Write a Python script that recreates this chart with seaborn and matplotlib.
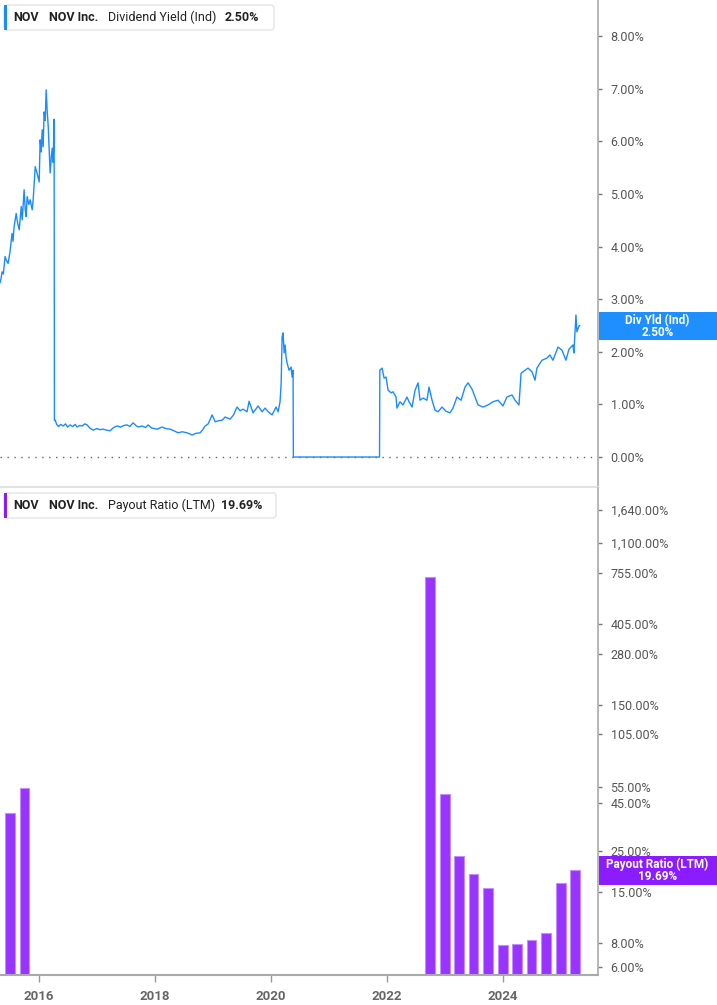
import matplotlib
matplotlib.use("Agg")
import matplotlib.pyplot as plt
import seaborn as sns
import pandas as pd
from matplotlib.patches import Rectangle, FancyBboxPatch
from matplotlib.ticker import FixedLocator, NullLocator, FixedFormatter

# ---------------- data ----------------
yield_dates = [
    "2015-04-29", "2015-05-06", "2015-05-12", "2015-05-20", "2015-05-31", "2015-06-08",
    "2015-06-19", "2015-07-01", "2015-07-14", "2015-07-20", "2015-07-27", "2015-08-09",
    "2015-08-18", "2015-08-28", "2015-09-10", "2015-09-16", "2015-09-28", "2015-10-05",
    "2015-10-11", "2015-10-17", "2015-10-28", "2015-11-05", "2015-11-18", "2015-11-24",
    "2015-12-07", "2015-12-19", "2016-01-01", "2016-01-07", "2016-01-14", "2016-01-20",
    "2016-01-26", "2016-02-01", "2016-02-08", "2016-02-14", "2016-02-20", "2016-02-27",
    "2016-03-10", "2016-03-17", "2016-03-23", "2016-03-29", "2016-04-04", "2016-04-06",
    "2016-04-11", "2016-04-20", "2016-05-02", "2016-05-16", "2016-05-31", "2016-06-15",
    "2016-06-28", "2016-07-14", "2016-07-30", "2016-08-15", "2016-08-27", "2016-09-12",
    "2016-09-28", "2016-10-14", "2016-10-29", "2016-11-15", "2016-12-06", "2016-12-28",
    "2017-01-18", "2017-02-07", "2017-03-01", "2017-03-23", "2017-04-14", "2017-05-06",
    "2017-05-28", "2017-06-18", "2017-07-08", "2017-07-25", "2017-08-15", "2017-09-01",
    "2017-09-16", "2017-10-10", "2017-11-01", "2017-11-18", "2017-12-10", "2018-01-13",
    "2018-02-14", "2018-03-10", "2018-04-05", "2018-04-28", "2018-05-26", "2018-06-20",
    "2018-07-21", "2018-08-06", "2018-08-22", "2018-09-15", "2018-10-11", "2018-10-28",
    "2018-11-12", "2018-12-01", "2018-12-26", "2019-01-14", "2019-02-05", "2019-02-27",
    "2019-03-18", "2019-04-18", "2019-05-10", "2019-06-01", "2019-06-20", "2019-07-09",
    "2019-08-03", "2019-08-16", "2019-09-10", "2019-10-12", "2019-11-06", "2019-11-25",
    "2019-12-15", "2020-01-08", "2020-02-02", "2020-02-15", "2020-02-27", "2020-03-05",
    "2020-03-11", "2020-03-17", "2020-03-24", "2020-03-30", "2020-04-05", "2020-04-11",
    "2020-04-24", "2020-05-07", "2020-05-13", "2020-05-19", "2020-05-21", "2021-11-15",
    "2021-11-17", "2021-12-01", "2021-12-14", "2021-12-26", "2022-01-08", "2022-01-27",
    "2022-02-08", "2022-02-27", "2022-03-05", "2022-03-24", "2022-04-12", "2022-05-07",
    "2022-05-20", "2022-06-08", "2022-06-27", "2022-07-16", "2022-07-28", "2022-08-16",
    "2022-09-10", "2022-09-23", "2022-10-12", "2022-10-31", "2022-11-19", "2022-12-14",
    "2023-01-08", "2023-02-02", "2023-02-21", "2023-03-18", "2023-04-13", "2023-05-08",
    "2023-05-27", "2023-06-21", "2023-07-10", "2023-07-29", "2023-08-29", "2023-09-30",
    "2023-10-31", "2023-12-02", "2024-01-02", "2024-01-27", "2024-02-28", "2024-03-18",
    "2024-04-12", "2024-04-25", "2024-05-07", "2024-06-08", "2024-07-03", "2024-07-22",
    "2024-08-03", "2024-09-04", "2024-10-05", "2024-10-24", "2024-11-12", "2024-12-14",
    "2025-01-08", "2025-02-02", "2025-02-21", "2025-03-18", "2025-03-24", "2025-04-06",
    "2025-04-12", "2025-04-25", "2025-05-01",
]
yield_values = [
    3.31, 3.40, 3.52, 3.48, 3.81, 3.74,
    3.68, 3.90, 4.25, 4.10, 4.38, 4.63,
    4.45, 4.32, 4.76, 4.51, 5.08, 4.70,
    4.57, 4.95, 4.80, 4.89, 4.70, 4.89,
    5.52, 5.39, 5.23, 6.03, 5.80, 6.22,
    5.90, 6.56, 6.40, 6.98, 6.60, 6.28,
    5.40, 5.70, 5.87, 5.60, 6.42, 0.70,
    0.70, 0.62, 0.58, 0.62, 0.59, 0.63,
    0.57, 0.61, 0.58, 0.62, 0.57, 0.60,
    0.59, 0.63, 0.61, 0.55, 0.51, 0.54,
    0.52, 0.53, 0.51, 0.50, 0.56, 0.59,
    0.57, 0.60, 0.61, 0.58, 0.65, 0.60,
    0.57, 0.59, 0.56, 0.61, 0.55, 0.53,
    0.57, 0.54, 0.53, 0.50, 0.46, 0.48,
    0.46, 0.44, 0.42, 0.45, 0.46, 0.52,
    0.59, 0.63, 0.80, 0.67, 0.69, 0.70,
    0.76, 0.72, 0.80, 0.95, 0.88, 0.91,
    0.86, 1.06, 0.84, 0.97, 0.86, 0.93,
    0.86, 0.80, 0.95, 0.86, 1.05, 1.40,
    2.28, 2.36, 1.98, 2.13, 1.90, 1.79,
    1.65, 1.71, 1.52, 1.65, 0.00, 0.00,
    1.65, 1.69, 1.50, 1.52, 1.27, 1.22,
    1.24, 1.14, 0.93, 1.05, 0.99, 1.14,
    1.05, 0.95, 1.27, 1.41, 1.08, 1.12,
    1.08, 1.33, 1.08, 0.89, 0.86, 0.95,
    0.87, 0.84, 0.93, 1.14, 1.08, 1.33,
    1.41, 1.29, 1.14, 0.99, 0.95, 0.99,
    1.05, 1.08, 0.97, 1.14, 1.18, 1.08,
    0.99, 1.59, 1.62, 1.69, 1.62, 1.46,
    1.69, 1.84, 1.88, 1.94, 1.84, 2.09,
    2.03, 1.84, 2.05, 2.13, 1.98, 2.70,
    2.38, 2.49, 2.50,
]

payout_dates = [
    "2015-06-30", "2015-09-30",
    "2022-09-30", "2022-12-31", "2023-03-31", "2023-06-30", "2023-09-30",
    "2023-12-31", "2024-03-31", "2024-06-30", "2024-09-30", "2024-12-31", "2025-03-31",
]
payout_values = [39.6, 53.9, 718.0, 50.0, 23.4, 18.8, 15.8, 7.86, 7.9, 8.36, 9.08, 16.9, 19.69]

yield_ticks = [0, 1, 2, 3, 4, 5, 6, 7, 8]
yield_tick_labels = ["0.00%", "1.00%", "2.00%", "3.00%", "4.00%", "5.00%", "6.00%", "7.00%", "8.00%"]
payout_ticks = [6, 8, 15, 25, 45, 55, 105, 150, 280, 405, 755, 1100, 1640]
payout_tick_labels = ["6.00%", "8.00%", "15.00%", "25.00%", "45.00%", "55.00%", "105.00%",
                      "150.00%", "280.00%", "405.00%", "755.00%", "1,100.00%", "1,640.00%"]
year_ticks = ["2016-01-01", "2018-01-01", "2020-01-01", "2022-01-01", "2024-01-01"]
year_labels = ["2016", "2018", "2020", "2022", "2024"]

# ---------------- style ----------------
sns.set_theme(style="white")
plt.rcParams["font.family"] = ["Roboto", "DejaVu Sans"]

BLUE = "#1a8cff"
PURPLE = "#9933ff"
PURPLE_DARK = "#8a1cff"
W, H = 717, 1005

fig = plt.figure(figsize=(W / 100, H / 100), dpi=100, facecolor="white")


def rect(x0, y0, x1, y1):
    return [x0 / W, 1 - y1 / H, (x1 - x0) / W, (y1 - y0) / H]


ax1 = fig.add_axes(rect(0, 0, 598, 487))
ax2 = fig.add_axes(rect(0, 488, 598, 975), sharex=ax1)

# top: dividend yield line
df_y = pd.DataFrame({"date": pd.to_datetime(yield_dates), "yield": yield_values})
sns.lineplot(data=df_y, x="date", y="yield", ax=ax1, color=BLUE, linewidth=1.0,
             estimator=None, sort=False)
ax1.axhline(0, color="#666666", linewidth=1.0, linestyle=(0, (1, 4)), zorder=0)
ax1.set_ylim(-0.570, 8.688)

# bottom: payout ratio bars
df_p = pd.DataFrame({"date": pd.to_datetime(payout_dates), "payout": payout_values})
ax2.set_yscale("log")
ax2.bar(df_p["date"], df_p["payout"], width=62, color=PURPLE, edgecolor="#c48dff",
        linewidth=0.8)
ax2.set_ylim(5.43, 2153)

ax1.set_xlim(pd.Timestamp("2015-04-29"), pd.Timestamp("2025-08-23"))

for ax in (ax1, ax2):
    ax.set_xlabel("")
    ax.set_ylabel("")
    ax.set_facecolor("white")
    ax.grid(False)
    ax.yaxis.tick_right()
    ax.yaxis.set_minor_locator(NullLocator())
    ax.tick_params(axis="y", which="major", right=True, left=False, length=3, width=1,
                   color="#777777", pad=6, labelsize=9, labelcolor="#555555")
    ax.spines["top"].set_visible(False)
    ax.spines["left"].set_visible(False)
    ax.spines["right"].set_color("#aaaaaa")
    ax.spines["right"].set_linewidth(1.2)

ax1.yaxis.set_major_locator(FixedLocator(yield_ticks))
ax1.yaxis.set_major_formatter(FixedFormatter(yield_tick_labels))
ax2.yaxis.set_major_locator(FixedLocator(payout_ticks))
ax2.yaxis.set_major_formatter(FixedFormatter(payout_tick_labels))

ax1.spines["bottom"].set_color("#e2e2e2")
ax1.spines["bottom"].set_linewidth(1.5)
ax1.tick_params(axis="x", bottom=False, labelbottom=False)

ax2.spines["bottom"].set_color("#aaaaaa")
ax2.spines["bottom"].set_linewidth(1.5)
ax2.set_xticks(pd.to_datetime(year_ticks))
ax2.set_xticklabels(year_labels, fontweight="bold")
ax2.tick_params(axis="x", bottom=True, length=5, width=1, color="#999999", pad=6,
                labelsize=9.5, labelcolor="#666666")


# ---------------- legends / labels ----------------
def fx(x):
    return x / W


def fy(y):
    return 1 - y / H


def legend_box(y0, y1, x1, color, metric, value, value_x):
    box = FancyBboxPatch((fx(4), fy(y1)), fx(x1) - fx(4), fy(y0) - fy(y1),
                         boxstyle="round,pad=0,rounding_size=0.004",
                         transform=fig.transFigure, facecolor="white",
                         edgecolor="#e4e4e4", linewidth=1.0, zorder=5)
    fig.patches.append(box)
    bar = Rectangle((fx(4), fy(y1)), fx(7) - fx(4), fy(y0) - fy(y1),
                    transform=fig.transFigure, facecolor=color, edgecolor="none", zorder=6)
    fig.patches.append(bar)
    yc = fy((y0 + y1) / 2)
    fig.text(fx(13), yc, "NOV", fontsize=9, fontweight="bold", color="#222222",
             va="center", ha="left", zorder=7)
    fig.text(fx(49), yc, "NOV Inc.", fontsize=9, fontweight="bold", color="#222222",
             va="center", ha="left", zorder=7)
    fig.text(fx(108), yc, metric, fontsize=9, color="#222222", va="center", ha="left",
             zorder=7)
    fig.text(fx(value_x), yc, value, fontsize=9, fontweight="bold", color="#222222",
             va="center", ha="left", zorder=7)


legend_box(5, 30, 274, BLUE, "Dividend Yield (Ind)", "2.50%", 225)
legend_box(493, 518, 276, PURPLE_DARK, "Payout Ratio (LTM)", "19.69%", 221)


def value_tag(y0, y1, color, line1, line2):
    r = Rectangle((fx(599), fy(y1)), fx(717) - fx(599), fy(y0) - fy(y1),
                  transform=fig.transFigure, facecolor=color, edgecolor="none", zorder=5)
    fig.patches.append(r)
    xc = fx(657.5)
    fig.text(xc, fy(y0 + 8.5), line1, fontsize=8.5, fontweight="bold", color="white",
             ha="center", va="center", zorder=7)
    fig.text(xc, fy(y0 + 20), line2, fontsize=8.5, fontweight="bold", color="white",
             ha="center", va="center", zorder=7)


value_tag(312, 340, "#1f8fff", "Div Yld (Ind)", "2.50%")
value_tag(856, 885, PURPLE_DARK, "Payout Ratio (LTM)", "19.69%")

fig.savefig("out.png", dpi=100, facecolor="white")
